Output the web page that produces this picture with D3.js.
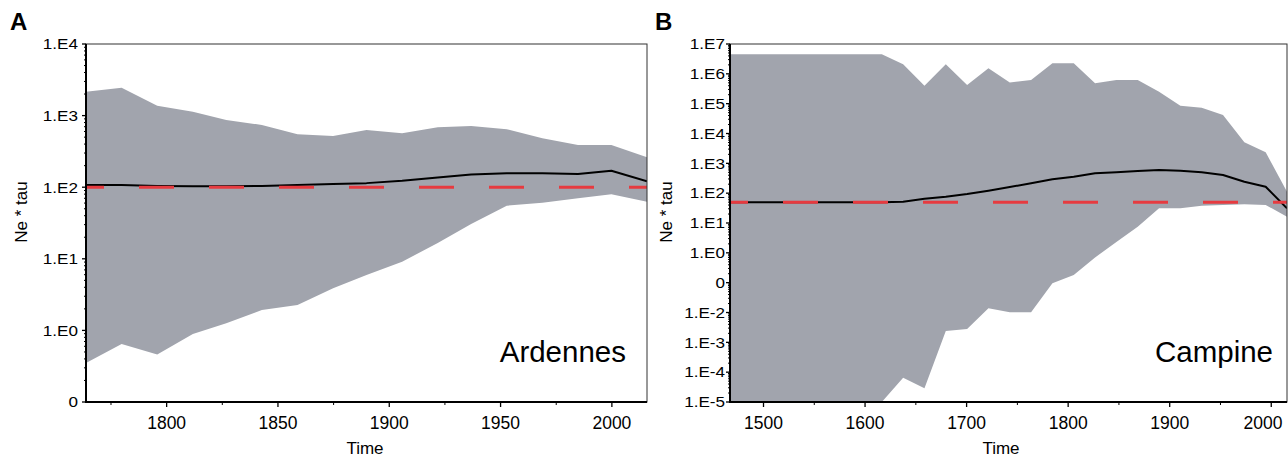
<!DOCTYPE html>
<html>
<head>
<meta charset="utf-8">
<script src="https://cdn.jsdelivr.net/npm/d3@7"></script>
<style>
body { margin: 0; background: #fff; }
svg { display: block; font-family: "Liberation Sans", Arial, Helvetica, sans-serif; }
</style>
</head>
<body>
<svg id="chart" width="1288" height="457"></svg>
<script>
// Ardennes (panel A)
var ardYears  = [1764, 1780, 1796, 1812, 1827, 1843, 1859, 1875, 1890, 1906, 1922, 1937, 1953, 1969, 1985, 2000, 2016];
var ardUpper  = [2160, 2450, 1375, 1135, 870, 740, 548, 520, 630, 566, 687, 716, 644, 482, 388, 388, 262];
var ardMedian = [107, 107, 104, 103, 103, 104, 107, 111, 114, 123, 137, 150, 156, 156, 153, 170, 121];
var ardLower  = [0.35, 0.645, 0.46, 0.89, 1.26, 1.93, 2.26, 3.87, 5.94, 9.1, 16.6, 30.6, 55.2, 60.8, 70, 79.6, 62.7];
var ardRef = 100;
var ardYTickValues = [0.1, 1, 10, 100, 1000, 10000];
var ardYTickLabels = ["0", "1.E0", "1.E1", "1.E2", "1.E3", "1.E4"];
var ardXTicks = [1800, 1850, 1900, 1950, 2000];
var ardXMinor = [1775, 1825, 1875, 1925, 1975];

// Campine (panel B)
var campYears  = [1468, 1491, 1512, 1533, 1554, 1575, 1596, 1617, 1638, 1659, 1680, 1701, 1722, 1743,
                  1764, 1785, 1806, 1827, 1848, 1869, 1890, 1911, 1932, 1953, 1974, 1995, 2016];
var campUpper  = [4.5e6, 4.5e6, 4.5e6, 4.5e6, 4.5e6, 4.5e6, 4.5e6, 4.5e6, 2.09e6, 4.0e5, 2.09e6, 4.22e5, 1.53e6, 5.12e5,
                  6.21e5, 2.25e6, 2.25e6, 4.81e5, 6.21e5, 6.21e5, 2.52e5, 8.55e4, 7.32e4, 4.17e4, 5070, 2340, 112];
var campMedian = [50, 50, 50, 50, 50, 50, 50, 50, 52, 65, 76, 94, 121, 161,
                  214, 291, 356, 463, 500, 553, 597, 566, 500, 406, 242, 164, 31];
var campLower  = [1e-6, 1e-6, 1e-6, 1e-6, 1e-6, 1e-6, 1e-6, 1e-5, 6.5e-5, 2.87e-5, 2.39e-3, 2.79e-3, 0.0138, 0.0101,
                  0.0101, 0.095, 0.18, 0.70, 2.3, 7.5, 31, 31, 37.9, 40.1, 42.3, 40.1, 16.3];
var campRef = 50;
var campYTickValues = [1e-5, 1e-4, 1e-3, 1e-2, 0.1, 1, 10, 100, 1e3, 1e4, 1e5, 1e6, 1e7];
var campYTickLabels = ["1.E-5", "1.E-4", "1.E-3", "1.E-2", "0", "1.E0", "1.E1", "1.E2", "1.E3", "1.E4", "1.E5", "1.E6", "1.E7"];
var campXTicks = [1500, 1600, 1700, 1800, 1900, 2000];
var campXMinor = [1550, 1650, 1750, 1850, 1950];

var svg = d3.select("#chart");

function drawPanel(p) {
    var x = d3.scaleLinear().domain(p.xDomain).range([p.left, p.right]);
    var y = d3.scaleLog().domain([p.yTickValues[0], p.yTickValues[p.yTickValues.length - 1]]).range([p.bottom, p.top]);
    var pts = p.years.map(function(t, i) {
        return { t: t, lo: p.lower[i], md: p.median[i], hi: p.upper[i] };
    });

    svg.append("clipPath").attr("id", "clip-" + p.id)
       .append("rect")
       .attr("x", p.left).attr("y", p.top)
       .attr("width", p.right - p.left).attr("height", p.bottom - p.top);

    var plot = svg.append("g").attr("clip-path", "url(#clip-" + p.id + ")");
    plot.append("path").datum(pts)
        .attr("fill", "#a1a4ad")
        .attr("d", d3.area().x(function(d) { return x(d.t); })
                            .y0(function(d) { return y(d.lo); })
                            .y1(function(d) { return y(d.hi); }));
    plot.append("path").datum(pts)
        .attr("fill", "none").attr("stroke", "#000").attr("stroke-width", 2)
        .attr("stroke-linejoin", "round")
        .attr("d", d3.line().x(function(d) { return x(d.t); }).y(function(d) { return y(d.md); }));
    plot.append("line")
        .attr("x1", p.left).attr("x2", p.right)
        .attr("y1", y(p.ref)).attr("y2", y(p.ref))
        .attr("stroke", "#e63b40").attr("stroke-width", 3)
        .attr("stroke-dasharray", "35,35").attr("stroke-dashoffset", 17);

    // frame
    svg.append("rect")
       .attr("x", p.left).attr("y", p.top)
       .attr("width", p.right - p.left).attr("height", p.bottom - p.top)
       .attr("fill", "none").attr("stroke", "#333").attr("stroke-width", 1);

    // bottom axis
    var xMajor = svg.append("g").attr("transform", "translate(0," + p.bottom + ")")
        .call(d3.axisBottom(x).tickValues(p.xTicks).tickSize(5).tickFormat(d3.format("d")));
    xMajor.select(".domain").remove();
    xMajor.attr("font-size", 17.5).attr("font-family", null);
    xMajor.selectAll("line").attr("stroke-width", 1.3);
    xMajor.selectAll("text").attr("y", 27).attr("dy", null).attr("fill", "#000")
        .each(function(d) {
            // keep the last label inside the page, as in the original
            var w = this.getBBox().width;
            var over = x(d) + w / 2 - 1282;
            if (over > 0) d3.select(this).attr("x", -over);
        });
    var xMin = svg.append("g").attr("transform", "translate(0," + p.bottom + ")")
        .call(d3.axisBottom(x).tickValues(p.xMinor).tickSize(3).tickFormat(""));
    xMin.select(".domain").remove();

    // left axis, log ticks
    var minor = [];
    d3.range(Math.round(Math.log10(y.domain()[0])), Math.round(Math.log10(y.domain()[1]))).forEach(function(e) {
        d3.range(2, 10).forEach(function(k) { minor.push(k * Math.pow(10, e)); });
    });
    svg.append("g").selectAll("line").data(minor).join("line")
       .attr("x1", p.left - 2).attr("x2", p.left)
       .attr("y1", function(d) { return y(d); }).attr("y2", function(d) { return y(d); })
       .attr("stroke", "#000").attr("stroke-width", 1);
    svg.append("g").selectAll("line").data(p.yTickValues).join("line")
       .attr("x1", p.left - 4).attr("x2", p.left)
       .attr("y1", function(d) { return y(d); }).attr("y2", function(d) { return y(d); })
       .attr("stroke", "#000").attr("stroke-width", 1.3);
    svg.append("g").selectAll("text").data(p.yTickValues).join("text")
       .attr("transform", function(d) { return "translate(" + (p.left - p.labelGap) + "," + (y(d) + 5.3) + ") scale(1.14,1)"; })
       .attr("text-anchor", "end").attr("font-size", 15)
       .text(function(d, i) { return p.yTickLabels[i]; });

    svg.append("line").attr("x1", p.left).attr("x2", p.left).attr("y1", p.top).attr("y2", p.bottom + 1)
       .attr("stroke", "#000").attr("stroke-width", 2);
    svg.append("line").attr("x1", p.left - 1).attr("x2", p.right).attr("y1", p.bottom).attr("y2", p.bottom)
       .attr("stroke", "#000").attr("stroke-width", 2);

    // texts
    svg.append("text").attr("x", p.letterX).attr("y", 30)
       .attr("font-size", 24).attr("font-weight", "bold").text(p.letter);
    svg.append("text").attr("x", p.nameX).attr("y", 362)
       .attr("text-anchor", "end").attr("font-size", 29.5).text(p.name);
    svg.append("text").attr("x", p.timeX).attr("y", 454)
       .attr("text-anchor", "middle").attr("font-size", 17).text("Time");
    svg.append("text").attr("transform", "translate(" + p.yLabelX + ",212) rotate(-90)")
       .attr("text-anchor", "middle").attr("font-size", 17).text("Ne * tau");
}

drawPanel({
    id: "a", letter: "A", name: "Ardennes",
    left: 86, right: 647, top: 44, bottom: 402,
    xDomain: [1764, 2016],
    years: ardYears, upper: ardUpper, median: ardMedian, lower: ardLower, ref: ardRef,
    yTickValues: ardYTickValues, yTickLabels: ardYTickLabels,
    xTicks: ardXTicks, xMinor: ardXMinor,
    labelGap: 8, letterX: 10, nameX: 626, timeX: 365, yLabelX: 27
});

drawPanel({
    id: "b", letter: "B", name: "Campine",
    left: 730, right: 1287, top: 44, bottom: 402,
    xDomain: [1467.5, 2016],
    years: campYears, upper: campUpper, median: campMedian, lower: campLower, ref: campRef,
    yTickValues: campYTickValues, yTickLabels: campYTickLabels,
    xTicks: campXTicks, xMinor: campXMinor,
    labelGap: 5, letterX: 655, nameX: 1273, timeX: 1001, yLabelX: 672
});
</script>
</body>
</html>
